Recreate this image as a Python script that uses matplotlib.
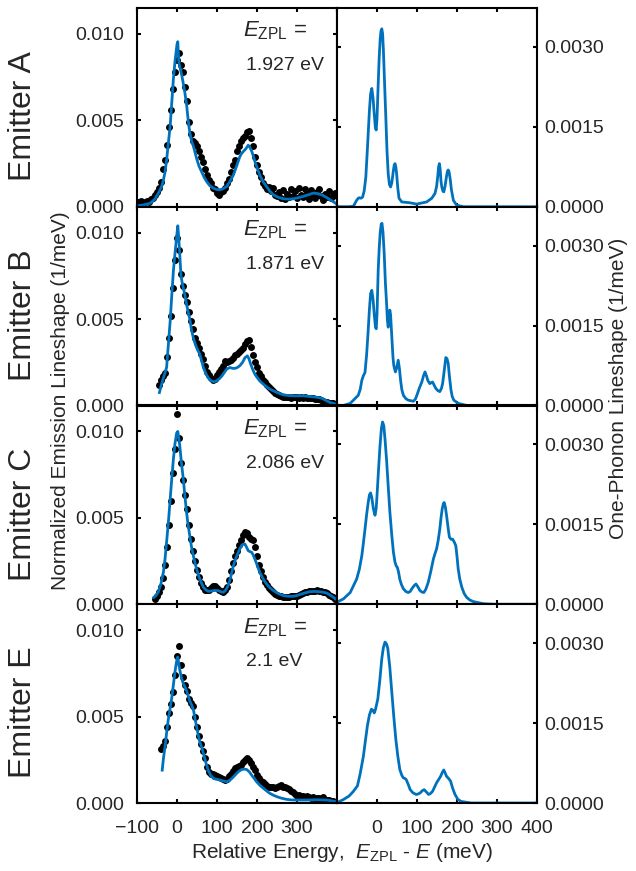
import numpy as np
import matplotlib
matplotlib.use("Agg")
import matplotlib.pyplot as plt

plt.rcParams['font.family'] = ['Liberation Sans', 'DejaVu Sans']
plt.rcParams['mathtext.fontset'] = 'custom'
plt.rcParams['mathtext.rm'] = 'Liberation Sans'
plt.rcParams['mathtext.it'] = 'Liberation Sans:italic'
plt.rcParams['mathtext.bf'] = 'Liberation Sans:bold'

# ---- data (lineshape values in units of 1e-3 / meV) ----
emitters = ['A', 'B', 'C', 'E']
e_zpl = ['1.927', '1.871', '2.086', '2.1']

# measured spectra (black dots), 5 meV steps
a_dots_x = np.arange(-100, 401, 5)
a_dots_y = [0.30, 0.25, 0.35, 0.20, 0.30, 0.35, 0.28, 0.45, 0.50, 0.70,
            0.85, 1.10, 1.45, 2.20, 2.70, 3.60, 4.60, 5.60, 6.80, 7.80,
            8.50, 8.90, 8.20, 7.80, 6.90, 6.10, 4.90, 4.20, 3.80, 3.70,
            3.50, 3.20, 2.90, 2.60, 2.20, 1.85, 1.55, 1.35, 1.10, 1.00,
            0.80, 0.70, 0.85, 0.90, 1.10, 1.35, 1.60, 2.00, 2.40, 2.70,
            3.20, 3.50, 3.80, 4.00, 4.10, 4.30, 4.40, 4.00, 3.50, 2.90,
            2.40, 2.00, 1.70, 1.40, 1.20, 1.00, 1.15, 0.90, 1.10, 0.70,
            0.60, 0.85, 0.50, 0.95, 0.45, 0.75, 0.55, 1.05, 0.60, 0.90,
            0.50, 1.10, 0.70, 0.55, 1.00, 0.80, 0.45, 0.95, 0.70, 0.50,
            0.85, 1.05, 0.65, 0.40, 0.75, 0.55, 0.90, 0.50, 0.65, 0.80,
            0.70]
b_dots_x = np.arange(-45, 401, 5)
b_dots_y = [1.20, 1.50, 1.70, 1.90, 2.80, 3.90, 5.20, 6.80, 8.40, 9.70,
            9.00, 7.60, 6.90, 6.40, 6.00, 5.40, 4.90, 4.40, 3.90, 3.60,
            3.30, 3.00, 2.70, 2.30, 1.95, 1.75, 1.60, 1.50, 1.55, 1.75,
            1.95, 2.10, 2.30, 2.60, 2.50, 2.55, 2.65, 2.75, 2.90, 3.00,
            3.10, 3.20, 3.35, 3.55, 3.75, 3.80, 3.40, 2.95, 2.50, 2.20,
            1.90, 1.70, 1.50, 1.35, 1.20, 1.05, 0.95, 0.85, 0.75, 0.65,
            0.58, 0.55, 0.50, 0.50, 0.48, 0.50, 0.46, 0.48, 0.47, 0.50,
            0.46, 0.48, 0.45, 0.47, 0.44, 0.45, 0.42, 0.44, 0.40, 0.38,
            0.35, 0.30, 0.25, 0.20, 0.18, 0.15, 0.12, 0.12, 0.10, 0.10]
c_dots_x = np.arange(-55, 401, 5)
c_dots_y = [0.30, 0.45, 0.70, 1.00, 1.50, 2.30, 3.30, 4.60, 6.00, 7.60,
            9.00, 11.00, 9.60, 8.20, 7.20, 6.30, 5.50, 4.60, 3.80, 3.10,
            2.50, 2.00, 1.55, 1.25, 1.00, 0.85, 0.80, 0.85, 0.95, 1.05,
            1.05, 0.95, 0.85, 0.75, 0.70, 0.80, 1.00, 1.40, 1.90, 2.40,
            2.80, 3.10, 3.40, 3.70, 4.00, 4.20, 4.10, 3.90, 3.80, 3.70,
            3.30, 2.80, 2.30, 1.90, 1.55, 1.30, 1.10, 0.95, 0.80, 0.70,
            0.60, 0.55, 0.50, 0.45, 0.42, 0.42, 0.40, 0.42, 0.45, 0.45,
            0.48, 0.50, 0.55, 0.60, 0.65, 0.70, 0.72, 0.75, 0.78, 0.75,
            0.78, 0.80, 0.75, 0.78, 0.72, 0.70, 0.65, 0.55, 0.50, 0.40,
            0.30, 0.25]
e_dots_x = np.arange(-40, 391, 5)
e_dots_y = [3.10, 3.30, 3.60, 4.40, 5.20, 5.70, 6.40, 7.40, 8.50, 9.10,
            8.00, 7.30, 6.80, 6.50, 6.00, 5.80, 5.60, 5.00, 4.40, 3.90,
            3.40, 3.00, 2.60, 2.10, 1.80, 1.70, 1.65, 1.60, 1.55, 1.50,
            1.45, 1.40, 1.35, 1.40, 1.55, 1.70, 1.85, 2.00, 2.10, 2.15,
            2.20, 2.35, 2.50, 2.60, 2.50, 2.30, 2.10, 1.90, 1.60, 1.45,
            1.30, 1.20, 1.10, 1.00, 0.95, 0.90, 0.95, 0.85, 0.90, 1.00,
            1.05, 0.95, 0.90, 0.85, 0.80, 0.70, 0.65, 0.50, 0.40, 0.45,
            0.38, 0.42, 0.35, 0.40, 0.32, 0.30, 0.35, 0.25, 0.30, 0.28,
            0.22, 0.35, 0.20, 0.18, 0.15, 0.12, 0.10]

# computed emission lineshapes (blue, left column): (meV, value)
a_fit = [(-100, 0.05), (-85, 0.10), (-67, 0.20), (-55, 0.45), (-45, 0.85), (-38, 1.20),
         (-34, 1.55), (-30, 2.00), (-26, 2.70), (-22, 3.60), (-17, 4.70), (-13, 6.05),
         (-9, 7.40), (-5, 8.40), (-2, 9.00), (0, 9.40), (2, 9.55), (3.5, 8.80), (5, 8.30),
         (8, 8.00), (12, 7.60), (16, 7.10), (20, 6.55), (24, 5.90), (28, 5.00), (32, 4.30),
         (36, 3.85), (41, 3.50), (45, 3.15), (49, 2.80), (55, 2.35), (62, 2.00), (68, 1.70),
         (74, 1.46), (82, 1.22), (91, 1.07), (99, 1.00), (107, 0.98), (115, 1.04),
         (124, 1.17), (132, 1.45), (141, 1.84), (149, 2.35), (157, 2.90), (162, 3.10),
         (166, 3.20), (172, 3.35), (178, 3.56), (182, 3.45), (187, 3.20), (191, 2.92),
         (195, 2.60), (201, 2.20), (207, 1.84), (215, 1.45), (224, 1.17), (232, 0.90),
         (241, 0.69), (253, 0.55), (266, 0.46), (278, 0.44), (291, 0.46), (303, 0.52),
         (316, 0.60), (329, 0.70), (341, 0.79), (352, 0.76), (362, 0.69), (373, 0.55),
         (383, 0.40), (392, 0.27), (400, 0.15)]
b_fit = [(-44, 0.75), (-39, 1.20), (-34, 1.60), (-30, 1.90), (-26, 2.20), (-22, 3.40),
         (-17, 4.90), (-13, 6.40), (-9, 7.80), (-5, 8.80), (-2, 9.50), (2, 10.40), (4, 9.80),
         (6, 9.10), (10, 7.50), (13, 7.10), (16, 6.80), (20, 6.35), (24, 5.85), (28, 5.40),
         (32, 5.00), (36, 4.40), (41, 3.90), (45, 3.60), (49, 3.35), (53, 3.15), (57, 2.96),
         (62, 2.55), (66, 2.20), (72, 1.85), (78, 1.60), (84, 1.45), (91, 1.37), (99, 1.42),
         (106, 1.55), (112, 1.70), (118, 1.90), (124, 2.10), (132, 2.20), (139, 2.15),
         (145, 2.15), (151, 2.20), (157, 2.30), (164, 2.50), (170, 2.77), (176, 2.87),
         (180, 2.70), (183, 2.48), (189, 2.10), (195, 1.80), (201, 1.60), (207, 1.42),
         (215, 1.25), (224, 1.08), (232, 0.95), (241, 0.85), (253, 0.72), (266, 0.62),
         (278, 0.58), (291, 0.56), (303, 0.56), (316, 0.56), (329, 0.53), (341, 0.50),
         (352, 0.47), (362, 0.42), (372, 0.30), (383, 0.17), (392, 0.11), (400, 0.08)]
c_fit = [(-58, 0.40), (-52, 0.52), (-47, 0.70), (-40, 1.20), (-34, 1.85), (-30, 2.60),
         (-26, 3.60), (-21, 4.90), (-17, 6.10), (-13, 7.30), (-9, 8.40), (-5, 9.30),
         (-1, 9.90), (2, 10.00), (4, 9.70), (7, 9.15), (11, 8.20), (16, 7.20), (20, 6.20),
         (24, 5.30), (28, 4.55), (32, 3.96), (36, 3.35), (41, 2.80), (45, 2.40), (49, 2.04),
         (53, 1.72), (57, 1.46), (62, 1.18), (66, 0.98), (72, 0.84), (78, 0.75), (84, 0.76),
         (91, 0.79), (97, 0.80), (103, 0.79), (110, 0.72), (116, 0.69), (122, 0.82),
         (128, 1.08), (134, 1.55), (141, 2.23), (147, 2.65), (153, 3.00), (158, 3.25),
         (162, 3.42), (166, 3.48), (170, 3.48), (174, 3.30), (178, 3.10), (182, 3.05),
         (187, 3.00), (191, 2.82), (195, 2.60), (201, 2.22), (207, 1.85), (215, 1.48),
         (224, 1.17), (232, 0.96), (241, 0.79), (253, 0.62), (266, 0.50), (278, 0.46),
         (291, 0.46), (302, 0.52), (312, 0.60), (322, 0.67), (332, 0.73), (343, 0.74),
         (353, 0.73), (364, 0.70), (374, 0.65), (383, 0.53), (391, 0.40), (400, 0.25)]
e_fit = [(-37, 1.90), (-34, 2.55), (-30, 3.25), (-26, 4.05), (-22, 4.80), (-17, 5.50),
         (-13, 6.10), (-9, 6.85), (-5, 7.60), (-1, 8.20), (2, 8.45), (4, 8.10), (7, 7.70),
         (11, 7.25), (16, 6.90), (20, 6.70), (24, 6.50), (28, 6.20), (32, 5.90), (36, 5.70),
         (41, 5.40), (45, 4.90), (49, 4.40), (53, 3.95), (57, 3.54), (62, 3.20), (66, 2.87),
         (72, 2.35), (78, 1.90), (84, 1.60), (91, 1.42), (99, 1.37), (107, 1.33),
         (115, 1.28), (124, 1.23), (131, 1.30), (137, 1.42), (143, 1.56), (149, 1.71),
         (155, 1.84), (162, 1.94), (168, 1.96), (174, 1.94), (181, 1.80), (187, 1.60),
         (193, 1.42), (199, 1.23), (207, 1.03), (216, 0.85), (224, 0.70), (232, 0.56),
         (241, 0.45), (249, 0.37), (261, 0.28), (274, 0.21), (286, 0.18), (299, 0.17),
         (311, 0.17), (324, 0.17), (336, 0.18), (349, 0.19), (362, 0.18), (374, 0.17),
         (386, 0.13), (397, 0.08)]

# one-phonon lineshapes (blue, right column): (meV, value)
a_one = [(-100, 0), (-70, 0), (-59, 0.01), (-51, 0.12), (-47, 0.16), (-44, 0.17), (-40, 0.16),
         (-36, 0.18), (-32, 0.30), (-28, 0.55), (-25, 0.95), (-22, 1.37), (-19, 1.80),
         (-16, 2.12), (-13, 2.22), (-10, 2.05), (-7, 1.75), (-4, 1.48), (-2, 1.44), (0, 1.65),
         (3, 2.31), (5.5, 2.80), (8, 3.15), (10, 3.30), (12, 3.34), (14, 3.25), (16, 2.94),
         (19, 2.30), (22, 1.69), (25, 1.05), (28, 0.62), (31, 0.42), (34, 0.37), (37, 0.45),
         (41, 0.68), (43, 0.78), (45, 0.81), (47, 0.75), (49, 0.62), (52, 0.35), (55, 0.16),
         (62, 0.09), (82, 0.075), (99, 0.05), (124, 0.09), (137, 0.16), (145, 0.25),
         (149, 0.38), (152, 0.58), (154, 0.75), (156, 0.81), (158, 0.70), (160, 0.48),
         (162, 0.37), (165, 0.29), (167, 0.28), (170, 0.38), (174, 0.58), (176, 0.66),
         (178, 0.69), (180, 0.66), (183, 0.52), (186, 0.32), (191, 0.12), (199, 0.03),
         (216, 0), (300, 0), (400, 0)]
b_one = [(-100, 0), (-84, 0), (-67, 0.04), (-55, 0.13), (-47, 0.19), (-42, 0.30), (-38, 0.47),
         (-34, 0.56), (-30, 0.62), (-26, 0.95), (-22, 1.41), (-19, 1.80), (-16, 2.10),
         (-13, 2.16), (-10, 2.00), (-7, 1.72), (-4, 1.48), (-2, 1.44), (0, 1.70), (3, 2.54),
         (5.5, 2.95), (8, 3.25), (10.5, 3.40), (12.5, 3.42), (15, 3.25), (18, 2.85),
         (21, 2.30), (24, 1.91), (26, 1.60), (28, 1.47), (30, 1.60), (32, 1.79), (34, 1.70),
         (37, 1.29), (40, 0.90), (42, 0.75), (46, 0.63), (49, 0.70), (53, 0.85), (56, 0.70),
         (59, 0.47), (62, 0.30), (66, 0.19), (72, 0.13), (78, 0.10), (91, 0.08), (96, 0.12),
         (101, 0.22), (106, 0.33), (112, 0.44), (116, 0.55), (120, 0.63), (124, 0.55),
         (127, 0.47), (132, 0.41), (136, 0.43), (139, 0.44), (143, 0.38), (147, 0.32),
         (152, 0.28), (157, 0.26), (161, 0.32), (164, 0.41), (168, 0.65), (172, 0.90),
         (175, 0.88), (178, 0.79), (181, 0.55), (185, 0.29), (188, 0.17), (192, 0.10),
         (203, 0.04), (224, 0), (400, 0)]
c_one = [(-100, 0.04), (-84, 0.10), (-67, 0.22), (-51, 0.47), (-44, 0.66), (-38, 0.91),
         (-34, 1.15), (-30, 1.41), (-26, 1.68), (-22, 1.91), (-19, 2.05), (-16, 2.09),
         (-13, 2.00), (-9, 1.79), (-5, 1.67), (-2, 1.80), (1, 2.16), (4, 2.55), (7.5, 2.97),
         (11, 3.30), (14, 3.42), (17, 3.35), (20, 3.10), (24, 2.70), (28, 2.22), (32, 1.75),
         (37, 1.29), (41, 0.98), (45, 0.79), (48, 0.72), (51, 0.69), (54, 0.60), (57, 0.47),
         (61, 0.37), (66, 0.29), (72, 0.24), (78, 0.22), (83, 0.24), (87, 0.29), (93, 0.35),
         (97.5, 0.38), (102, 0.33), (107, 0.26), (112, 0.23), (117, 0.22), (122, 0.28),
         (128, 0.41), (134, 0.60), (141, 0.85), (145, 0.95), (149, 1.04), (153, 1.20),
         (157, 1.41), (160, 1.62), (163, 1.79), (166, 1.89), (168, 1.91), (171, 1.82),
         (174, 1.66), (178, 1.42), (181, 1.26), (185, 1.22), (189, 1.22), (193, 1.17),
         (197, 1.10), (200, 0.90), (203, 0.66), (207, 0.47), (212, 0.32), (218, 0.20),
         (224, 0.13), (232, 0.08), (241, 0.05), (266, 0.01), (291, 0), (400, 0)]
e_one = [(-100, 0.01), (-85, 0.06), (-70, 0.13), (-60, 0.21), (-49, 0.32), (-42, 0.55),
         (-34, 0.88), (-29, 1.17), (-24, 1.45), (-19, 1.65), (-14, 1.76), (-10, 1.74),
         (-7, 1.69), (-4, 1.75), (2, 1.95), (7, 2.30), (12, 2.71), (16, 2.92), (20, 3.02),
         (24, 2.98), (27, 2.90), (32, 2.55), (37, 2.08), (42, 1.62), (47, 1.20), (52, 0.88),
         (57, 0.63), (62, 0.52), (66, 0.47), (70, 0.46), (73, 0.44), (78, 0.35), (83, 0.25),
         (90, 0.19), (98, 0.16), (103, 0.17), (108, 0.19), (113, 0.23), (118, 0.25),
         (123, 0.21), (129, 0.16), (134, 0.18), (139, 0.22), (144, 0.30), (149, 0.38),
         (154, 0.44), (159, 0.50), (163, 0.57), (167, 0.62), (170, 0.57), (174, 0.50),
         (179, 0.46), (184, 0.41), (189, 0.28), (195, 0.16), (202, 0.07), (210, 0.03),
         (235, 0), (400, 0)]

dots = [(a_dots_x, a_dots_y), (b_dots_x, b_dots_y), (c_dots_x, c_dots_y), (e_dots_x, e_dots_y)]
fits = [a_fit, b_fit, c_fit, e_fit]
ones = [a_one, b_one, c_one, e_one]

x_ticks = [-100, 0, 100, 200, 300, 400]
left_yticks = [0, 0.005, 0.010]
left_ylabels = ['0.000', '0.005', '0.010']
right_yticks = [0, 0.0015, 0.0030]
right_ylabels = ['0.0000', '0.0015', '0.0030']

BLUE = '#0072BD'
TXT = '#262626'
W, H = 636, 871
top, bottom = 8, 803
row_h = (bottom - top) / 4


def style(ax):
    for s in ax.spines.values():
        s.set_linewidth(1.5)
    ax.tick_params(direction='in', length=3, width=1.5, top=True, right=True,
                   bottom=True, left=True, labelsize=14, labelcolor=TXT, color='k')
    ax.set_xlim(-100, 400)
    ax.set_xticks(x_ticks)


fig = plt.figure(figsize=(W / 100, H / 100), dpi=100)

for i, name in enumerate(emitters):
    y0 = 1 - (top + (i + 1) * row_h) / H
    axl = fig.add_axes([137 / W, y0, 200 / W, row_h / H])
    axr = fig.add_axes([337 / W, y0, 200 / W, row_h / H])

    dx, dy = dots[i]
    fx, fy = np.array(fits[i]).T
    ox, oy = np.array(ones[i]).T
    axl.plot(dx, np.array(dy) * 1e-3, 'o', color='k', ms=5, mec='none')
    axl.plot(fx, fy * 1e-3, '-', color=BLUE, lw=2.0, solid_joinstyle='round')
    axr.plot(ox, oy * 1e-3, '-', color=BLUE, lw=2.0, solid_joinstyle='round')

    style(axl)
    style(axr)
    axl.set_ylim(0, 0.0115)
    axl.set_yticks(left_yticks)
    axl.set_yticklabels(left_ylabels)
    axl.tick_params(axis='y', pad=9)
    axr.set_ylim(0, 0.00373)
    axr.set_yticks(right_yticks)
    axr.set_yticklabels(right_ylabels)
    axr.tick_params(axis='y', labelleft=False, labelright=True, pad=5.5)

    if i == len(emitters) - 1:
        axl.set_xticklabels(['\u2212100', '0', '100', '200', '300', ''])
        axr.set_xticklabels(['', '0', '100', '200', '300', '400'])
        axl.tick_params(axis='x', pad=12)
        axr.tick_params(axis='x', pad=12)
    else:
        axl.set_xticklabels([])
        axr.set_xticklabels([])

    axl.text(0.53, 0.855, r'$E_{\mathrm{ZPL}}$ =', transform=axl.transAxes,
             fontsize=16, color=TXT, va='baseline')
    axl.text(0.545, 0.688, f'{e_zpl[i]} eV', transform=axl.transAxes,
             fontsize=14, color=TXT, va='baseline')

    yc = top + (i + 0.5) * row_h + 9
    fig.text(23 / W, 1 - yc / H, f'Emitter {name}', rotation=90, fontsize=23,
             ha='center', va='center', color=TXT)

fig.text(60 / W, 1 - 401 / H, 'Normalized Emission Lineshape (1/meV)', rotation=90,
         fontsize=15, ha='center', va='center', color=TXT)
fig.text(619 / W, 1 - 388 / H, 'One-Phonon Lineshape (1/meV)', rotation=90,
         fontsize=15, ha='center', va='center', color=TXT)
fig.text(0.538, 13 / H, r'Relative Energy,  $E_{\mathrm{ZPL}}$ - $E$ (meV)',
         ha='center', va='baseline', fontsize=15, color=TXT)

fig.savefig('out.png', dpi=100)
